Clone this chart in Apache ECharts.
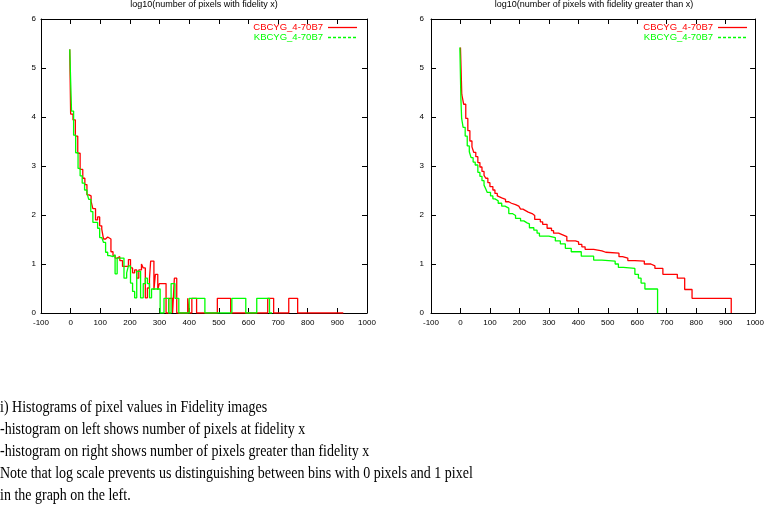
<!DOCTYPE html>
<html>
<head>
<meta charset="utf-8">
<script src="https://cdn.jsdelivr.net/npm/echarts@6/dist/echarts.min.js"></script>
<style>
html,body{margin:0;padding:0;background:#fff;}
#chart{width:767px;height:511px;}
</style>
</head>
<body>
<div id="chart"></div>
<script>
// ---- data ----
const seriesNames = ['CBCYG_4-70B7', 'KBCYG_4-70B7'];
const xTicks = { min: -100, max: 1000, step: 100 };
const yTicks = { min: 0, max: 6, step: 1 };
const titles = ['log10(number of pixels with fidelity x)', 'log10(number of pixels with fidelity greater than x)'];
const noteLines = [
  'i) Histograms of pixel values in Fidelity images',
  '-histogram on left shows number of pixels at fidelity x',
  '-histogram on right shows number of pixels greater than fidelity x',
  'Note that log scale prevents us distinguishing between bins with 0 pixels and 1 pixel',
  'in the graph on the left.'
];

// left panel: log10(count in bin starting at x)
const leftRedX = [-3,0,8,16,24,32,41,48,55,62,69,75,84,91,98,105,111,118,125,136,143,150,157,166,175,195,202,209,216,223,230,239,245,252,259,266,270,281,286,294,299,322,331,344,350,358,395,400,409,425,495,540,665,685,736,766,920];
const leftRedY = [5.38,4.06,3.94,3.61,3.26,2.93,2.75,2.62,2.41,2.39,2.28,2.13,1.90,1.96,1.78,1.71,1.51,1.55,1.51,1.25,1.17,1.12,1.15,1.07,0.95,1.09,0.92,0.82,0.88,0.71,0.88,1.00,0.92,0.31,0.51,0.70,1.06,0.47,0.79,0.47,0.60,0,0.30,0,0.71,0,0.30,0,0.30,0,0.30,0,0.30,0,0.30,0,0];
const leftGreenX = [-3,3,10,17,25,32,39,47,55,61,68,75,84,91,98,105,111,118,125,132,143,150,157,166,172,180,189,195,202,209,216,223,236,245,252,259,266,273,302,315,331,339,352,365,400,453,544,591,628,671,680];
const leftGreenY = [5.38,4.12,3.63,3.27,2.95,2.80,2.65,2.51,2.45,2.32,2.07,1.85,1.85,1.73,1.54,1.51,1.44,1.24,1.17,1.15,1.19,0.80,1.12,1.10,1.12,0.71,0.82,0.96,0.61,0.44,0.31,0.85,0.31,0.60,0.71,0.60,0.31,0.49,0,0.30,0,0.60,0.30,0,0.30,0,0.30,0,0.30,0,0];

// right panel: log10(count of pixels with fidelity greater than x)
const rightRedX = [0,4.5,11,18,25,32,39,45,52,59,66,73,80,86,93,100,110,117,125,131,140,153,164,173,187,198,204,212,221,230,243,252,271,279,294,309,316,333,345,361,390,401,412,423,452,480,493,538,550,568,592,624,646,660,687,736,761,786,919];
const rightRedY = [5.42,4.46,4.26,3.97,3.72,3.51,3.39,3.28,3.19,3.07,2.98,2.89,2.81,2.75,2.66,2.58,2.51,2.44,2.39,2.35,2.32,2.27,2.24,2.21,2.18,2.15,2.12,2.09,2.06,2.03,1.99,1.91,1.86,1.81,1.73,1.68,1.63,1.60,1.56,1.47,1.45,1.40,1.35,1.30,1.27,1.24,1.22,1.15,1.12,1.07,1.06,1.00,0.96,0.91,0.79,0.71,0.48,0.30,0];
const rightGreenX = [-2,1.5,4,9,16,23,30,36,43,50,59,66,73,80,86,91,102,110,117,128,140,151,164,176,187,204,215,226,234,249,260,268,300,322,339,356,376,410,452,480,525,536,553,592,604,613,626,669];
const rightGreenY = [5.42,4.36,3.97,3.79,3.61,3.41,3.29,3.17,3.08,3.02,2.87,2.79,2.70,2.61,2.53,2.46,2.39,2.33,2.29,2.24,2.18,2.14,2.03,1.99,1.93,1.88,1.84,1.82,1.74,1.69,1.63,1.57,1.54,1.47,1.41,1.32,1.25,1.16,1.08,1.06,1.00,0.93,0.91,0.79,0.71,0.61,0.49,0];

// ---- build chart ----
const zip = (xs, ys) => xs.map((x, i) => [x, ys[i]]);
const FONT = '"Liberation Sans", Arial, Helvetica, sans-serif';
const colors = ['#ff0000', '#00ff00'];
const legendDash = [null, [3, 2]];

const panels = [
  { left: 41, labelMargin: 5, data: [zip(leftRedX, leftRedY), zip(leftGreenX, leftGreenY)] },
  { left: 431, labelMargin: 7, data: [zip(rightRedX, rightRedY), zip(rightGreenX, rightGreenY)] }
];
const PW = 326, PH = 294, PT = 19;

const grid = [], xAxis = [], yAxis = [], series = [], graphic = [];
panels.forEach((p, gi) => {
  grid.push({ left: p.left, top: PT, width: PW, height: PH, containLabel: false });
  const axisCommon = {
    gridIndex: gi, type: 'value', splitLine: { show: false },
    axisLine: { show: true, onZero: false, lineStyle: { color: '#000', width: 1 } },
    axisTick: { show: true, inside: true, length: 5, lineStyle: { color: '#000', width: 1 } }
  };
  xAxis.push(Object.assign({}, axisCommon, {
    position: 'bottom', min: xTicks.min, max: xTicks.max, interval: xTicks.step,
    axisLabel: { show: true, color: '#000', fontSize: 8, fontFamily: FONT, margin: 6,
      showMinLabel: true, showMaxLabel: true, hideOverlap: false, formatter: v => String(v) }
  }));
  xAxis.push(Object.assign({}, axisCommon, {
    position: 'top', min: xTicks.min, max: xTicks.max, interval: xTicks.step,
    axisLabel: { show: false }
  }));
  yAxis.push(Object.assign({}, axisCommon, {
    position: 'left', min: yTicks.min, max: yTicks.max, interval: yTicks.step,
    axisLabel: { show: true, color: '#000', fontSize: 8, fontFamily: FONT, margin: p.labelMargin, formatter: v => String(v) }
  }));
  yAxis.push(Object.assign({}, axisCommon, {
    position: 'right', min: yTicks.min, max: yTicks.max, interval: yTicks.step,
    axisLabel: { show: false }
  }));
  p.data.forEach((d, si) => {
    series.push({
      type: 'line', name: seriesNames[si], step: 'end',
      xAxisIndex: gi * 2, yAxisIndex: gi * 2,
      data: d, symbol: 'none', showSymbol: false, silent: true,
      lineStyle: { color: colors[si], width: 1.3 },
      itemStyle: { color: colors[si] },
      z: 2 + si
    });
    // legend entry (text right-aligned, sample line on its right)
    const ly = 27 + si * 10;
    const right = p.left + PW;
    graphic.push({
      type: 'text', x: right - 44, y: ly,
      style: { text: seriesNames[si], fill: colors[si], font: '9.5px ' + FONT, textAlign: 'right', textVerticalAlign: 'middle' }
    });
    graphic.push({
      type: 'line', shape: { x1: right - 39, y1: ly + 0.5, x2: right - 10, y2: ly + 0.5 },
      style: { stroke: colors[si], lineWidth: 1.3, lineDash: legendDash[si] }
    });
  });
  graphic.push({
    type: 'text', x: p.left + PW / 2, y: 5,
    style: { text: titles[gi], fill: '#000', font: '9px ' + FONT, textAlign: 'center', textVerticalAlign: 'middle' }
  });
});

noteLines.forEach((t, i) => {
  graphic.push({
    type: 'text', x: 0, y: 408 + i * 22, scaleY: 1.12,
    style: { text: t, fill: '#000', font: '14px "Liberation Serif", "DejaVu Serif", serif', textAlign: 'left', textVerticalAlign: 'middle' }
  });
});

const chart = echarts.init(document.getElementById('chart'), null, { renderer: 'canvas' });
chart.setOption({
  animation: false,
  backgroundColor: '#fff',
  grid, xAxis, yAxis, series, graphic
});
</script>
</body>
</html>
